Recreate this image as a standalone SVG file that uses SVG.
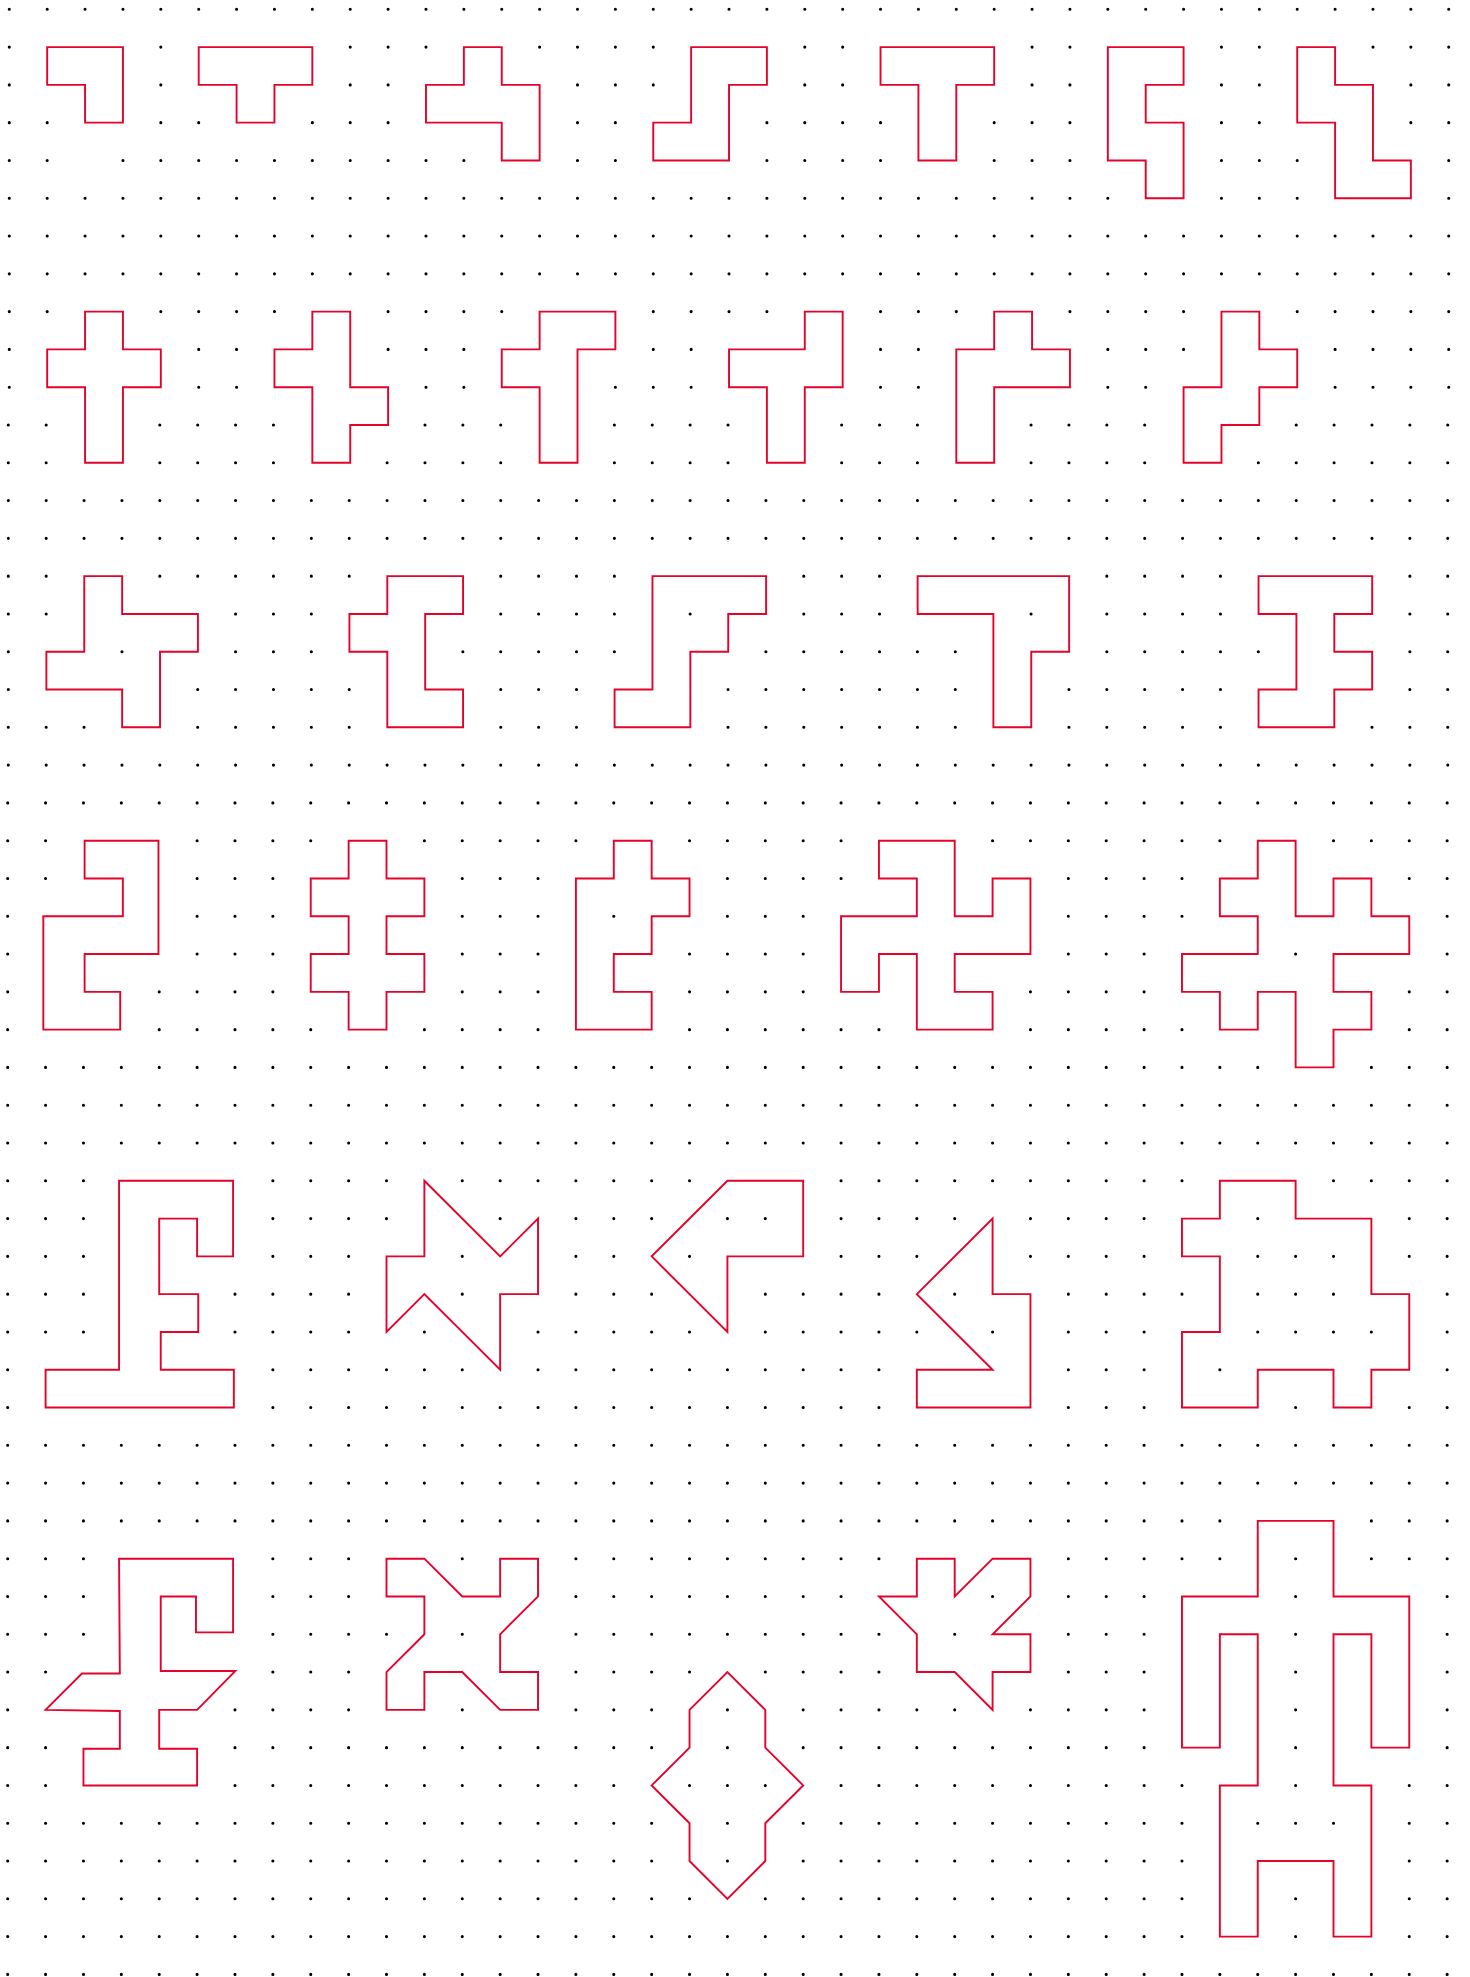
<svg xmlns="http://www.w3.org/2000/svg" xmlns:xlink="http://www.w3.org/1999/xlink" width="1470" height="1977" viewBox="0 0 1470 1977">
<style>
.bg{fill:#fff}
.dots path{fill:none;stroke:#000;stroke-width:3.1;stroke-linecap:round;stroke-dasharray:0 37.88}
.under{fill:none;stroke:#fff;stroke-width:9}
.shape{fill:none;stroke:#e3032b;stroke-width:1.9;stroke-linejoin:miter}
polygon{vector-effect:non-scaling-stroke}
</style>
<rect class="bg" x="0" y="0" width="1470" height="1977"/>
<g id="dot-grid" class="dots">
<path d="M9.3 9.3h1441"/>
<path d="M9.3 47.09h1441"/>
<path d="M9.3 84.88h1441"/>
<path d="M9.3 122.67h1441"/>
<path d="M9.3 160.46h38.5"/>
<path d="M122.94 160.46h1327"/>
<path d="M9.3 198.25h1441"/>
<path d="M9.3 236.04h1441"/>
<path d="M9.3 273.83h1441"/>
<path d="M9.3 311.62h1441"/>
<path d="M9.3 349.41h1441"/>
<path d="M9.3 387.2h1441"/>
<path d="M8.3 424.99h1441"/>
<path d="M8.3 462.78h1441"/>
<path d="M8.3 500.57h1441"/>
<path d="M8.3 538.36h1441"/>
<path d="M8.3 576.15h1441"/>
<path d="M8.3 613.94h1441"/>
<path d="M8.3 651.73h1441"/>
<path d="M8.3 689.52h1441"/>
<path d="M8.3 727.31h1441"/>
<path d="M8.3 765.1h1441"/>
<path d="M7.7 802.89h1441"/>
<path d="M7.7 840.68h1441"/>
<path d="M7.7 878.47h1441"/>
<path d="M7.7 916.26h1441"/>
<path d="M7.7 954.05h1441"/>
<path d="M7.7 991.84h1441"/>
<path d="M7.7 1029.63h1441"/>
<path d="M7.7 1067.42h1441"/>
<path d="M7.7 1105.21h1441"/>
<path d="M7.7 1143h1441"/>
<path d="M7.7 1180.79h1441"/>
<path d="M7.7 1218.58h1441"/>
<path d="M7.7 1256.37h1441"/>
<path d="M7.7 1294.16h1441"/>
<path d="M7.7 1331.95h1441"/>
<path d="M7.7 1369.74h1441"/>
<path d="M7.7 1407.53h1441"/>
<path d="M7.7 1445.32h1441"/>
<path d="M7.7 1483.11h1441"/>
<path d="M7.7 1520.9h1441"/>
<path d="M7.7 1558.69h1441"/>
<path d="M7.7 1596.48h1441"/>
<path d="M7.7 1634.27h492.5"/>
<path d="M575.9 1634.27h872.5"/>
<path d="M7.7 1672.06h1441"/>
<path d="M7.7 1709.85h1441"/>
<path d="M7.7 1747.64h1441"/>
<path d="M7.7 1785.43h1441"/>
<path d="M7.7 1823.22h1441"/>
<path d="M7.7 1861.01h1441"/>
<path d="M7.7 1898.8h1441"/>
<path d="M7.7 1936.59h1441"/>
<path d="M7.7 1974.38h1441"/>
</g>
<g id="grid-clearing" class="under">
<use href="#p1"/><use href="#p2"/><use href="#p3"/><use href="#p4"/><use href="#p5"/><use href="#p6"/><use href="#p7"/>
<use href="#p8"/><use href="#p9"/><use href="#p10"/><use href="#p11"/><use href="#p12"/><use href="#p13"/>
<use href="#p14"/><use href="#p15"/><use href="#p16"/><use href="#p17"/><use href="#p18"/>
<use href="#p19"/><use href="#p20"/><use href="#p21"/><use href="#p22"/><use href="#p23"/>
<use href="#p24"/><use href="#p25"/><use href="#p26"/><use href="#p27"/><use href="#p28"/>
<use href="#p29"/><use href="#p30"/><use href="#p31"/><use href="#p32"/><use href="#p33"/>
</g>
<g id="shapes">
<g id="shape-01" class="shape"><polygon id="p1" transform="matrix(37.88 0 0 37.79 9.3 9.3)" points="1,1 3,1 3,3 2,3 2,2 1,2"/></g>
<g id="shape-02" class="shape"><polygon id="p2" transform="matrix(37.88 0 0 37.79 9.3 9.3)" points="5,1 8,1 8,2 7,2 7,3 6,3 6,2 5,2"/></g>
<g id="shape-03" class="shape"><polygon id="p3" transform="matrix(37.88 0 0 37.79 9.3 9.3)" points="12,1 13,1 13,2 14,2 14,4 13,4 13,3 11,3 11,2 12,2"/></g>
<g id="shape-04" class="shape"><polygon id="p4" transform="matrix(37.88 0 0 37.79 9.3 9.3)" points="18,1 20,1 20,2 19,2 19,4 17,4 17,3 18,3"/></g>
<g id="shape-05" class="shape"><polygon id="p5" transform="matrix(37.88 0 0 37.79 9.3 9.3)" points="23,1 26,1 26,2 25,2 25,4 24,4 24,2 23,2"/></g>
<g id="shape-06" class="shape"><polygon id="p6" transform="matrix(37.88 0 0 37.79 9.3 9.3)" points="29,1 31,1 31,2 30,2 30,3 31,3 31,5 30,5 30,4 29,4"/></g>
<g id="shape-07" class="shape"><polygon id="p7" transform="matrix(37.88 0 0 37.79 9.3 9.3)" points="34,1 35,1 35,2 36,2 36,4 37,4 37,5 35,5 35,3 34,3"/></g>
<g id="shape-08" class="shape"><polygon id="p8" transform="matrix(37.88 0 0 37.79 9.3 9.3)" points="2,8 3,8 3,9 4,9 4,10 3,10 3,12 2,12 2,10 1,10 1,9 2,9"/></g>
<g id="shape-09" class="shape"><polygon id="p9" transform="matrix(37.88 0 0 37.79 9.3 9.3)" points="8,8 9,8 9,10 10,10 10,11 9,11 9,12 8,12 8,10 7,10 7,9 8,9"/></g>
<g id="shape-10" class="shape"><polygon id="p10" transform="matrix(37.88 0 0 37.79 9.3 9.3)" points="14,8 16,8 16,9 15,9 15,12 14,12 14,10 13,10 13,9 14,9"/></g>
<g id="shape-11" class="shape"><polygon id="p11" transform="matrix(37.88 0 0 37.79 9.3 9.3)" points="21,8 22,8 22,10 21,10 21,12 20,12 20,10 19,10 19,9 21,9"/></g>
<g id="shape-12" class="shape"><polygon id="p12" transform="matrix(37.88 0 0 37.79 9.3 9.3)" points="26,8 27,8 27,9 28,9 28,10 26,10 26,12 25,12 25,9 26,9"/></g>
<g id="shape-13" class="shape"><polygon id="p13" transform="matrix(37.88 0 0 37.79 9.3 9.3)" points="32,8 33,8 33,9 34,9 34,10 33,10 33,11 32,11 32,12 31,12 31,10 32,10"/></g>
<g id="shape-14" class="shape"><polygon id="p14" transform="matrix(37.88 0 0 37.79 8.5 9.3)" points="2,15 3,15 3,16 5,16 5,17 4,17 4,19 3,19 3,18 1,18 1,17 2,17"/></g>
<g id="shape-15" class="shape"><polygon id="p15" transform="matrix(37.88 0 0 37.79 8.5 9.3)" points="10,15 12,15 12,16 11,16 11,18 12,18 12,19 10,19 10,17 9,17 9,16 10,16"/></g>
<g id="shape-16" class="shape"><polygon id="p16" transform="matrix(37.88 0 0 37.79 8.5 9.3)" points="17,15 20,15 20,16 19,16 19,17 18,17 18,19 16,19 16,18 17,18"/></g>
<g id="shape-17" class="shape"><polygon id="p17" transform="matrix(37.88 0 0 37.79 8.5 9.3)" points="24,15 28,15 28,17 27,17 27,19 26,19 26,16 24,16"/></g>
<g id="shape-18" class="shape"><polygon id="p18" transform="matrix(37.88 0 0 37.79 8.5 9.3)" points="33,15 36,15 36,16 35,16 35,17 36,17 36,18 35,18 35,19 33,19 33,18 34,18 34,16 33,16"/></g>
<g id="shape-19" class="shape"><polygon id="p19" transform="matrix(37.88 0 0 37.79 7.7 9.3)" points="2.03,22 3.98,22 3.98,25 2.03,25 2.03,26 2.97,26 2.97,27 0.94,27 0.94,24 3.04,24 3.04,23 2.03,23"/></g>
<g id="shape-20" class="shape"><polygon id="p20" transform="matrix(37.88 0 0 37.79 7.7 9.3)" points="9,22 10,22 10,23 11,23 11,24 10,24 10,25 11,25 11,26 10,26 10,27 9,27 9,26 8,26 8,25 9,25 9,24 8,24 8,23 9,23"/></g>
<g id="shape-21" class="shape"><polygon id="p21" transform="matrix(37.88 0 0 37.79 7.7 9.3)" points="16,22 17,22 17,23 18,23 18,24 17,24 17,25 16,25 16,26 17,26 17,27 15,27 15,23 16,23"/></g>
<g id="shape-22" class="shape"><polygon id="p22" transform="matrix(37.88 0 0 37.79 7.7 9.3)" points="23,22 25,22 25,24 26,24 26,23 27,23 27,25 25,25 25,26 26,26 26,27 24,27 24,25 23,25 23,26 22,26 22,24 24,24 24,23 23,23"/></g>
<g id="shape-23" class="shape"><polygon id="p23" transform="matrix(37.88 0 0 37.79 7.7 9.3)" points="33,22 34,22 34,24 35,24 35,23 36,23 36,24 37,24 37,25 35,25 35,26 36,26 36,27 35,27 35,28 34,28 34,26 33,26 33,27 32,27 32,26 31,26 31,25 33,25 33,24 32,24 32,23 33,23"/></g>
<g id="shape-24" class="shape"><polygon id="p24" transform="matrix(37.88 0 0 37.79 7.7 9.3)" points="2.94,31 5.95,31 5.95,33 5,33 5,32 4,32 4,34 5.03,34 5.03,35 4.04,35 4.04,36 5.97,36 5.97,37 1,37 1,36 2.94,36"/></g>
<g id="shape-25" class="shape"><polygon id="p25" transform="matrix(37.88 0 0 37.79 7.7 9.3)" points="11,31 13,33 14,32 14,34 13,34 13,36 11,34 10,35 10,33 11,33"/></g>
<g id="shape-26" class="shape"><polygon id="p26" transform="matrix(37.88 0 0 37.79 7.7 9.3)" points="19,31 21,31 21,33 19,33 19,35 17,33"/></g>
<g id="shape-27" class="shape"><polygon id="p27" transform="matrix(37.88 0 0 37.79 7.7 9.3)" points="26,32 26,34 27,34 27,37 24,37 24,36 26,36 24,34"/></g>
<g id="shape-28" class="shape"><polygon id="p28" transform="matrix(37.88 0 0 37.79 7.7 9.3)" points="32,31 34,31 34,32 36,32 36,34 37,34 37,36 36,36 36,37 35,37 35,36 33,36 33,37 31,37 31,35 32,35 32,33 31,33 31,32 32,32"/></g>
<g id="shape-29" class="shape"><polygon id="p29" transform="matrix(37.88 0 0 37.79 7.7 9.3)" points="2.94,41 5.95,41 5.95,42.95 4.97,42.95 4.97,42 4.04,42 4.04,43.97 6.01,43.97 5,45 4,45 4,46.03 5,46.03 5,47 2,47 2,46.03 2.96,46.03 2.96,45.03 1,45 1.96,44.04 2.96,44.04"/></g>
<g id="shape-30" class="shape"><polygon id="p30" transform="matrix(37.88 0 0 37.79 7.7 9.3)" points="10,41 11,41 12,42 13,42 13,41 14,41 14,42 13,43 13,44 14,44 14,45 13,45 12,44 11,44 11,45 10,45 10,44 11,43 11,42 10,42"/></g>
<g id="shape-31" class="shape"><polygon id="p31" transform="matrix(37.88 0 0 37.79 7.7 9.3)" points="19,44 20,45 20,46 21,47 20,48 20,49 19,50 18,49 18,48 17,47 18,46 18,45"/></g>
<g id="shape-32" class="shape"><polygon id="p32" transform="matrix(37.88 0 0 37.79 7.7 9.3)" points="24,41 25,41 25,42 26,41 27,41 27,42 26,43 27,43 27,44 26,44 26,45 25,44 24,44 24,43 23,42 24,42"/></g>
<g id="shape-33" class="shape"><polygon id="p33" transform="matrix(37.88 0 0 37.79 7.7 9.3)" points="33,40 35,40 35,42 37,42 37,46 36,46 36,43 35,43 35,47 36,47 36,51 35,51 35,49 33,49 33,51 32,51 32,47 33,47 33,43 32,43 32,46 31,46 31,42 33,42"/></g>
</g>
</svg>
